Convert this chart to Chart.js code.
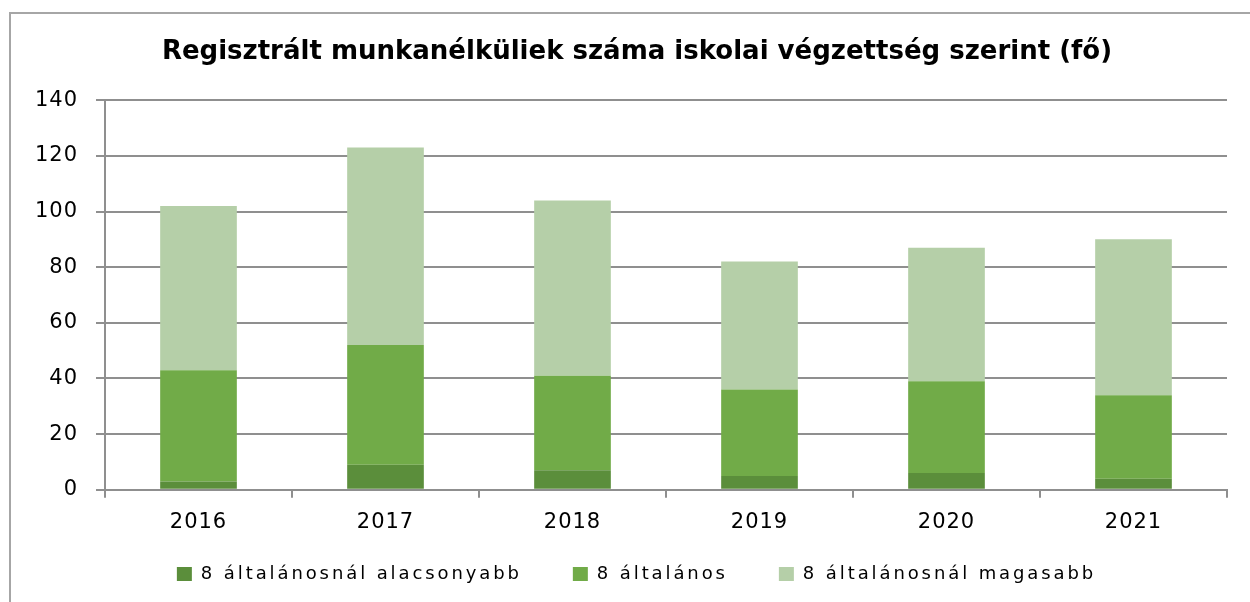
<!DOCTYPE html>
<html>
<head>
<meta charset="utf-8">
<script src="https://cdn.jsdelivr.net/npm/chart.js@4/dist/chart.umd.min.js"></script>
<style>
html,body{margin:0;padding:0;background:#fff;}
canvas{display:block;}
</style>
</head>
<body>
<canvas id="c" width="1250" height="602"></canvas>
<script>
const categories = ['2016', '2017', '2018', '2019', '2020', '2021'];
const seriesNames = ['8 általánosnál alacsonyabb', '8 általános', '8 általánosnál magasabb'];
const belowPrimary = [3, 9, 7, 5, 6, 4];
const primary = [40, 43, 34, 31, 33, 30];
const abovePrimary = [59, 71, 63, 46, 48, 56];
const yTicks = [0, 20, 40, 60, 80, 100, 120, 140];
const titleText = 'Regisztrált munkanélküliek száma iskolai végzettség szerint (fő)';

const colors = ['#5B8E3B', '#71AB48', '#B5CFA8'];
const gridColor = '#8F8F8F';
const LEGEND_SPACING = '2.9px';
const TICK_SPACING = '1px';

const frame = {
  id: 'frame',
  beforeDraw(chart) {
    const ctx = chart.ctx;
    ctx.save();
    ctx.fillStyle = '#fff';
    ctx.fillRect(0, 0, chart.width, chart.height);
    ctx.strokeStyle = '#A6A6A6';
    ctx.lineWidth = 2;
    ctx.beginPath();
    ctx.moveTo(10, 700);
    ctx.lineTo(10, 13);
    ctx.lineTo(1300, 13);
    ctx.stroke();
    ctx.restore();
    ctx.letterSpacing = TICK_SPACING;
  }
};

const tweak = {
  id: 'tweak',
  beforeLayout(chart) {
    const ctx = chart.ctx;
    ctx.letterSpacing = TICK_SPACING;
    const lg = chart.legend;
    if (lg && !lg._tw) {
      lg._tw = true;
      const fit = lg.fit, draw = lg.draw;
      lg.fit = function () {
        const p = ctx.letterSpacing; ctx.letterSpacing = LEGEND_SPACING;
        fit.call(this);
        ctx.letterSpacing = p;
        this.height = 55;
      };
      lg.draw = function () {
        const p = ctx.letterSpacing; ctx.letterSpacing = LEGEND_SPACING;
        draw.apply(this, arguments);
        ctx.letterSpacing = p;
      };
    }
    const t = chart.titleBlock;
    if (t && !t._tw) {
      t._tw = true;
      const d = t.draw;
      t.draw = function () {
        const p = ctx.letterSpacing; ctx.letterSpacing = '0px';
        d.apply(this, arguments);
        ctx.letterSpacing = p;
      };
    }
  },
  afterLayout(chart) {
    const lg = chart.legend;
    lg.top = 514; lg.bottom = chart.height; lg.height = lg.bottom - lg.top;
    lg.left += 23; lg.right += 23;
    const t = chart.titleBlock;
    t.left += 23.5; t.right += 23.5;
  }
};

const mk = (i, data) => ({
  label: seriesNames[i],
  data: data,
  backgroundColor: colors[i],
  borderWidth: 0,
  barPercentage: 0.41,
  categoryPercentage: 1.0
});

new Chart(document.getElementById('c'), {
  type: 'bar',
  data: {
    labels: categories,
    datasets: [mk(0, belowPrimary), mk(1, primary), mk(2, abovePrimary)]
  },
  options: {
    responsive: false,
    animation: false,
    devicePixelRatio: 1,
    layout: { padding: { left: 0, right: 23, top: 0, bottom: 0 } },
    plugins: {
      title: {
        display: true,
        text: titleText,
        color: '#000',
        font: { family: 'DejaVu Sans', weight: 'bold', size: 26 },
        padding: { top: 37, bottom: 32 }
      },
      legend: {
        display: true,
        position: 'bottom',
        labels: {
          color: '#000',
          font: { family: 'DejaVu Sans', size: 18 },
          boxWidth: 15,
          boxHeight: 14,
          padding: 51
        }
      },
      tooltip: { enabled: false }
    },
    scales: {
      x: {
        stacked: true,
        grid: {
          display: true,
          drawOnChartArea: false,
          drawTicks: true,
          tickLength: 8,
          color: gridColor,
          lineWidth: 2,
          offset: true
        },
        border: { display: true, color: gridColor, width: 2 },
        ticks: {
          color: '#000',
          font: { family: 'DejaVu Sans', size: 21 },
          padding: 12
        }
      },
      y: {
        stacked: true,
        min: 0,
        max: 140,
        afterBuildTicks(scale) { scale.ticks = yTicks.map(v => ({ value: v })); },
        afterFit(scale) { scale.width = 105; },
        grid: {
          color: gridColor,
          lineWidth: 2,
          drawTicks: true,
          tickLength: 9
        },
        border: { display: true, color: gridColor, width: 2 },
        ticks: {
          color: '#000',
          font: { family: 'DejaVu Sans', size: 21 },
          padding: 18
        }
      }
    }
  },
  plugins: [frame, tweak]
});
</script>
</body>
</html>
